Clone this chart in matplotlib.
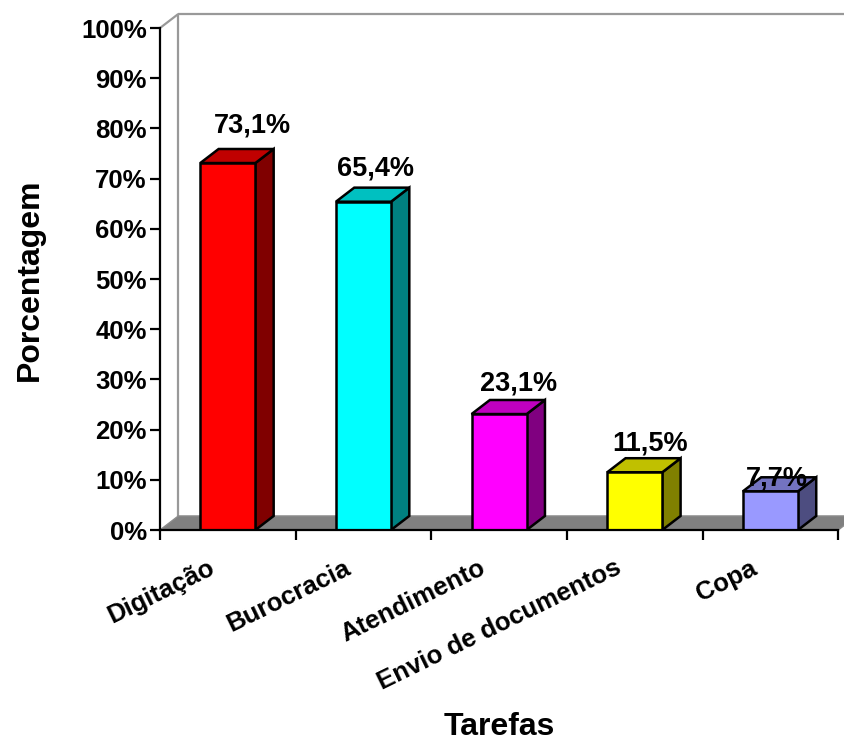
import matplotlib
matplotlib.use("Agg")
import matplotlib.pyplot as plt
from matplotlib.patches import Polygon

plt.rcParams['font.family'] = ['Liberation Sans', 'DejaVu Sans']
plt.rcParams['font.weight'] = 'bold'

# Data
categories = ["Digitação", "Burocracia", "Atendimento", "Envio de documentos", "Copa"]
values = [73.1, 65.4, 23.1, 11.5, 7.7]
value_labels = ["73,1%", "65,4%", "23,1%", "11,5%", "7,7%"]
y_ticks = [0, 10, 20, 30, 40, 50, 60, 70, 80, 90, 100]

# Styling: front / side / top shades for each bar
front_colors = ["#FF0000", "#00FFFF", "#FF00FF", "#FFFF00", "#9999FF"]
side_colors = ["#800000", "#008080", "#800080", "#808000", "#4D4D80"]
top_colors = ["#C00000", "#00C0C0", "#C000C0", "#C0C000", "#7373C0"]

# Label nudges (points) relative to the front-centre of each bar top
label_nudge = [(18, 22), (9, 19), (14, 17), (11, 16), (5, 4)]

half_w = 0.203          # half width of bar front face (category units)
dx, dy = 0.135, 2.8     # depth offset (category units, percent units)

fig = plt.figure(figsize=(8.45, 7.42), dpi=100)
ax = fig.add_axes([160 / 845, 212 / 742, 685 / 845, 518 / 742])
ax.set_xlim(-0.5, 4.55)
ax.set_ylim(0, 103.19)
ax.patch.set_alpha(0)

n = len(categories)
x0, x1 = -0.5, n - 0.5

# Floor
floor = Polygon([(x0, 0), (x1, 0), (x1 + dx, dy), (x0 + dx, dy)], closed=True,
                facecolor="#808080", edgecolor="#8c8c8c", lw=1.0, zorder=1)
ax.add_patch(floor)

# Back wall edges
wall_kw = dict(color="#999999", lw=1.6, zorder=0.5, solid_capstyle="butt")
ax.plot([x0 + dx, x0 + dx], [dy, 100 + dy], **wall_kw)
ax.plot([x0 + dx, 4.55], [100 + dy, 100 + dy], **wall_kw)
ax.plot([x0, x0 + dx], [100, 100 + dy], **wall_kw)

# 3D bars
for i, v in enumerate(values):
    l, r = i - half_w, i + half_w
    front = Polygon([(l, 0), (r, 0), (r, v), (l, v)], closed=True,
                    facecolor=front_colors[i], edgecolor="black", lw=1.8,
                    joinstyle="miter", zorder=3)
    side = Polygon([(r, 0), (r + dx, dy), (r + dx, v + dy), (r, v)], closed=True,
                   facecolor=side_colors[i], edgecolor="black", lw=1.8,
                   joinstyle="miter", zorder=2.9)
    top = Polygon([(l, v), (r, v), (r + dx, v + dy), (l + dx, v + dy)], closed=True,
                  facecolor=top_colors[i], edgecolor="black", lw=1.8,
                  joinstyle="miter", zorder=2.9)
    for p in (side, top, front):
        ax.add_patch(p)
    ax.annotate(value_labels[i], xy=(i, v), xytext=label_nudge[i],
                textcoords="offset points", ha="center", va="baseline",
                fontsize=19.5, fontweight="bold", color="black", zorder=5,
                annotation_clip=False)

# Axes lines and ticks
for s in ("top", "right"):
    ax.spines[s].set_visible(False)
ax.spines["left"].set_bounds(0, 100)
ax.spines["bottom"].set_bounds(x0, x1)
for s in ("left", "bottom"):
    ax.spines[s].set_linewidth(1.6)
    ax.spines[s].set_color("black")
    ax.spines[s].set_zorder(4)

ax.set_yticks(y_ticks)
ax.set_yticklabels([f"{t}%" for t in y_ticks])
ax.tick_params(axis="y", direction="out", length=7.5, width=1.6, pad=2,
               labelsize=18.5)
for lab in ax.get_yticklabels():
    lab.set_fontweight("bold")

ax.set_xticks([k - 0.5 for k in range(n + 1)])
ax.set_xticklabels([])
ax.tick_params(axis="x", direction="out", length=7.5, width=1.6)

# Category labels, rotated
for i, c in enumerate(categories):
    ax.annotate(c, xy=(i, 0), xytext=(-8.5, -31), textcoords="offset points",
                rotation=26, rotation_mode="anchor", ha="right", va="baseline",
                fontsize=18.5, fontweight="bold", annotation_clip=False)

fig.text(30 / 845, 1 - 280 / 742, "Porcentagem", rotation=90, ha="center",
         va="center", fontsize=23, fontweight="bold")
fig.text(499 / 845, 1 - 727 / 742, "Tarefas", ha="center", va="center",
         fontsize=23, fontweight="bold")

fig.savefig("out.png", dpi=100, facecolor="white")
